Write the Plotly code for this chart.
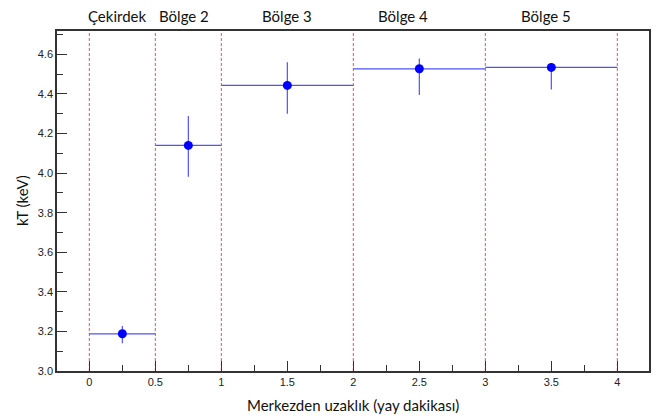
import plotly.graph_objects as go

# Data
radius = [0.25, 0.75, 1.5, 2.5, 3.5]
radius_halfwidth = [0.25, 0.25, 0.5, 0.5, 0.5]
kT = [3.188, 4.14, 4.443, 4.527, 4.534]
kT_err_plus = [0.039, 0.148, 0.117, 0.052, 0.02]
kT_err_minus = [0.048, 0.159, 0.143, 0.133, 0.111]
region_bounds = [0, 0.5, 1, 2, 3, 4]
region_labels = ["Çekirdek", "Bölge 2", "Bölge 3", "Bölge 4", "Bölge 5"]
region_label_x = [0.21, 0.72, 1.5, 2.375, 3.46]

txtfont = dict(family="Lato, Open Sans, sans-serif", size=15, color="#111")

fig = go.Figure()
fig.add_trace(go.Scatter(
    x=radius, y=kT, mode="markers",
    marker=dict(color="#0000ff", size=9),
    error_x=dict(type="data", array=radius_halfwidth, color="#5050ff", thickness=1.2, width=0),
    error_y=dict(type="data", array=kT_err_plus, arrayminus=kT_err_minus, symmetric=False,
                 color="#5050ff", thickness=1.2, width=0),
    showlegend=False,
))

for b in region_bounds:
    fig.add_shape(type="line", xref="x", yref="paper", x0=b, x1=b, y0=0, y1=1,
                  line=dict(color="#ff4a4a", width=1, dash="3px,2px"), layer="below")

for lbl, lx in zip(region_labels, region_label_x):
    fig.add_annotation(x=lx, xref="x", y=1.0, yref="paper", yanchor="middle", yshift=15, text=lbl,
                       showarrow=False, font=txtfont)

fig.add_annotation(x=0.5, xref="paper", y=0, yref="paper", yanchor="middle", yshift=-34,
                   text="Merkezden uzaklık (yay dakikası)", showarrow=False, font=txtfont)
fig.add_annotation(x=0, xref="paper", y=0.5, yref="paper", xanchor="center", xshift=-35, textangle=-90,
                   text="kT (keV)", showarrow=False, font=txtfont)

# page body adds an 8px offset; figure size/margins compensate for it
fig.update_layout(
    width=651, height=411,
    margin=dict(l=49, r=10, t=23, b=48, autoexpand=False),
    plot_bgcolor="white", paper_bgcolor="white",
    xaxis=dict(range=[-0.245, 4.24], dtick=0.5, tick0=0, ticks="inside", ticklen=10, tickcolor="#333",
               showline=True, linecolor="#333", linewidth=1.5, mirror=True, showgrid=False, zeroline=False,
               automargin=False,
               minor=dict(dtick=0.25, ticks="inside", ticklen=6, tickcolor="#333"),
               tickfont=dict(family="Liberation Sans, Arial", size=11, color="#222")),
    yaxis=dict(range=[3.0, 4.718], dtick=0.2, tick0=3.0, tickformat=".1f", ticks="inside", ticklen=10, tickcolor="#333",
               showline=True, linecolor="#333", linewidth=1.5, mirror=True, showgrid=False, zeroline=False,
               automargin=False,
               minor=dict(dtick=0.1, ticks="inside", ticklen=6, tickcolor="#333"),
               tickfont=dict(family="Liberation Sans, Arial", size=11, color="#222")),
)

fig.write_html("out.html")
